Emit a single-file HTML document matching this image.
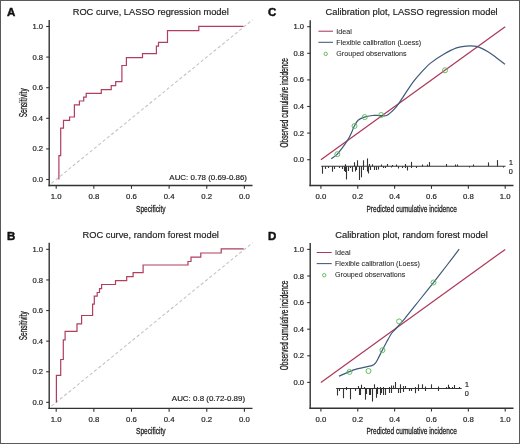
<!DOCTYPE html>
<html><head><meta charset="utf-8"><style>
html,body{margin:0;padding:0;background:#fff;}
#wrap{position:relative;width:520px;height:444px;overflow:hidden;background:#fff;}
svg{position:absolute;left:0;top:0;}
text{font-family:"Liberation Sans", sans-serif;stroke:#222;stroke-width:0.18px;}
svg{will-change:transform;}
</style></head><body><div id="wrap">
<svg width="520" height="444" viewBox="0 0 520 444">
<rect x="0" y="0" width="520" height="444" fill="#fff"/>
<text x="7.00" y="16.20" font-size="11.5" text-anchor="start" fill="#111" font-weight="bold" style="stroke:#111;stroke-width:0.45px">A</text>
<text x="150.70" y="14.90" font-size="9.3" text-anchor="middle" fill="#222" font-weight="normal" >ROC curve, LASSO regression model</text>
<line x1="51.50" y1="183.32" x2="252.50" y2="19.91" stroke="#c2c2c2" stroke-width="1.05" stroke-dasharray="3.2 2.3"/>
<line x1="49.20" y1="20.00" x2="49.20" y2="186.20" stroke="#333" stroke-width="1.4" />
<line x1="48.50" y1="185.50" x2="252.50" y2="185.50" stroke="#333" stroke-width="1.4" />
<line x1="46.20" y1="179.50" x2="49.20" y2="179.50" stroke="#333" stroke-width="1.1" />
<text x="43.00" y="182.05" font-size="7.6" text-anchor="end" fill="#222" font-weight="normal" >0.0</text>
<line x1="46.20" y1="148.90" x2="49.20" y2="148.90" stroke="#333" stroke-width="1.1" />
<text x="43.00" y="151.45" font-size="7.6" text-anchor="end" fill="#222" font-weight="normal" >0.2</text>
<line x1="46.20" y1="118.30" x2="49.20" y2="118.30" stroke="#333" stroke-width="1.1" />
<text x="43.00" y="120.85" font-size="7.6" text-anchor="end" fill="#222" font-weight="normal" >0.4</text>
<line x1="46.20" y1="87.70" x2="49.20" y2="87.70" stroke="#333" stroke-width="1.1" />
<text x="43.00" y="90.25" font-size="7.6" text-anchor="end" fill="#222" font-weight="normal" >0.6</text>
<line x1="46.20" y1="57.10" x2="49.20" y2="57.10" stroke="#333" stroke-width="1.1" />
<text x="43.00" y="59.65" font-size="7.6" text-anchor="end" fill="#222" font-weight="normal" >0.8</text>
<line x1="46.20" y1="26.50" x2="49.20" y2="26.50" stroke="#333" stroke-width="1.1" />
<text x="43.00" y="29.05" font-size="7.6" text-anchor="end" fill="#222" font-weight="normal" >1.0</text>
<line x1="56.20" y1="185.50" x2="56.20" y2="188.80" stroke="#333" stroke-width="1.1" />
<text x="56.20" y="198.70" font-size="7.8" text-anchor="middle" fill="#222" font-weight="normal" >1.0</text>
<line x1="93.84" y1="185.50" x2="93.84" y2="188.80" stroke="#333" stroke-width="1.1" />
<text x="93.84" y="198.70" font-size="7.8" text-anchor="middle" fill="#222" font-weight="normal" >0.8</text>
<line x1="131.48" y1="185.50" x2="131.48" y2="188.80" stroke="#333" stroke-width="1.1" />
<text x="131.48" y="198.70" font-size="7.8" text-anchor="middle" fill="#222" font-weight="normal" >0.6</text>
<line x1="169.12" y1="185.50" x2="169.12" y2="188.80" stroke="#333" stroke-width="1.1" />
<text x="169.12" y="198.70" font-size="7.8" text-anchor="middle" fill="#222" font-weight="normal" >0.4</text>
<line x1="206.76" y1="185.50" x2="206.76" y2="188.80" stroke="#333" stroke-width="1.1" />
<text x="206.76" y="198.70" font-size="7.8" text-anchor="middle" fill="#222" font-weight="normal" >0.2</text>
<line x1="244.40" y1="185.50" x2="244.40" y2="188.80" stroke="#333" stroke-width="1.1" />
<text x="244.40" y="198.70" font-size="7.8" text-anchor="middle" fill="#222" font-weight="normal" >0.0</text>
<g transform="translate(150.85,211.60) scale(0.67,1)"><text x="0" y="0" font-size="9.8" text-anchor="middle" fill="#222" style="stroke:#222;stroke-width:0.3px">Specificity</text></g>
<g transform="translate(26.60,102.85) rotate(-90) scale(0.632,1)"><text x="0" y="0" font-size="10.2" text-anchor="middle" fill="#222" style="stroke:#222;stroke-width:0.3px">Sensitivity</text></g>
<text x="247.00" y="179.60" font-size="7.95" text-anchor="end" fill="#222" font-weight="normal" >AUC: 0.78 (0.69-0.86)</text>
<path d="M 58.9 179.5 V 155.7 H 60.7 V 128.2 H 63.5 V 120.4 H 69.6 V 117 H 74.4 V 104.9 H 79.4 V 101 H 83.7 V 97.2 H 86.2 V 93.4 H 101.3 V 89.7 H 111.2 V 85.6 H 115.7 V 81.6 H 121.9 V 65.5 H 126.4 V 57.7 H 142.5 V 53.7 H 156.4 V 46.2 H 158.5 V 42.3 H 167.5 V 30.6 H 198.8 V 26.3 H 243.5" fill="none" stroke="#b03e5e" stroke-width="1.2" stroke-linejoin="miter"/>
<text x="7.00" y="239.55" font-size="11.5" text-anchor="start" fill="#111" font-weight="bold" style="stroke:#111;stroke-width:0.45px">B</text>
<text x="150.70" y="237.75" font-size="9.3" text-anchor="middle" fill="#222" font-weight="normal" >ROC curve, random forest model</text>
<line x1="51.50" y1="406.17" x2="252.50" y2="242.76" stroke="#c2c2c2" stroke-width="1.05" stroke-dasharray="3.2 2.3"/>
<line x1="49.20" y1="242.85" x2="49.20" y2="409.05" stroke="#333" stroke-width="1.4" />
<line x1="48.50" y1="408.35" x2="252.50" y2="408.35" stroke="#333" stroke-width="1.4" />
<line x1="46.20" y1="402.35" x2="49.20" y2="402.35" stroke="#333" stroke-width="1.1" />
<text x="43.00" y="404.90" font-size="7.6" text-anchor="end" fill="#222" font-weight="normal" >0.0</text>
<line x1="46.20" y1="371.75" x2="49.20" y2="371.75" stroke="#333" stroke-width="1.1" />
<text x="43.00" y="374.30" font-size="7.6" text-anchor="end" fill="#222" font-weight="normal" >0.2</text>
<line x1="46.20" y1="341.15" x2="49.20" y2="341.15" stroke="#333" stroke-width="1.1" />
<text x="43.00" y="343.70" font-size="7.6" text-anchor="end" fill="#222" font-weight="normal" >0.4</text>
<line x1="46.20" y1="310.55" x2="49.20" y2="310.55" stroke="#333" stroke-width="1.1" />
<text x="43.00" y="313.10" font-size="7.6" text-anchor="end" fill="#222" font-weight="normal" >0.6</text>
<line x1="46.20" y1="279.95" x2="49.20" y2="279.95" stroke="#333" stroke-width="1.1" />
<text x="43.00" y="282.50" font-size="7.6" text-anchor="end" fill="#222" font-weight="normal" >0.8</text>
<line x1="46.20" y1="249.35" x2="49.20" y2="249.35" stroke="#333" stroke-width="1.1" />
<text x="43.00" y="251.90" font-size="7.6" text-anchor="end" fill="#222" font-weight="normal" >1.0</text>
<line x1="56.20" y1="408.35" x2="56.20" y2="411.65" stroke="#333" stroke-width="1.1" />
<text x="56.20" y="421.85" font-size="7.8" text-anchor="middle" fill="#222" font-weight="normal" >1.0</text>
<line x1="93.84" y1="408.35" x2="93.84" y2="411.65" stroke="#333" stroke-width="1.1" />
<text x="93.84" y="421.85" font-size="7.8" text-anchor="middle" fill="#222" font-weight="normal" >0.8</text>
<line x1="131.48" y1="408.35" x2="131.48" y2="411.65" stroke="#333" stroke-width="1.1" />
<text x="131.48" y="421.85" font-size="7.8" text-anchor="middle" fill="#222" font-weight="normal" >0.6</text>
<line x1="169.12" y1="408.35" x2="169.12" y2="411.65" stroke="#333" stroke-width="1.1" />
<text x="169.12" y="421.85" font-size="7.8" text-anchor="middle" fill="#222" font-weight="normal" >0.4</text>
<line x1="206.76" y1="408.35" x2="206.76" y2="411.65" stroke="#333" stroke-width="1.1" />
<text x="206.76" y="421.85" font-size="7.8" text-anchor="middle" fill="#222" font-weight="normal" >0.2</text>
<line x1="244.40" y1="408.35" x2="244.40" y2="411.65" stroke="#333" stroke-width="1.1" />
<text x="244.40" y="421.85" font-size="7.8" text-anchor="middle" fill="#222" font-weight="normal" >0.0</text>
<g transform="translate(150.85,434.45) scale(0.67,1)"><text x="0" y="0" font-size="9.8" text-anchor="middle" fill="#222" style="stroke:#222;stroke-width:0.3px">Specificity</text></g>
<g transform="translate(26.60,325.70) rotate(-90) scale(0.632,1)"><text x="0" y="0" font-size="10.2" text-anchor="middle" fill="#222" style="stroke:#222;stroke-width:0.3px">Sensitivity</text></g>
<text x="245.10" y="400.50" font-size="7.95" text-anchor="end" fill="#222" font-weight="normal" >AUC: 0.8 (0.72-0.89)</text>
<path d="M 56.4 402.5 V 375.4 H 60.7 V 359.5 H 63.3 V 339.9 H 65.1 V 331.4 H 77 V 323.9 H 81.6 V 315.5 H 92.6 V 304.2 H 94.3 V 296.2 H 97.2 V 292.5 H 99.5 V 288.7 H 101.6 V 284.5 H 115.5 V 280.6 H 126.7 V 276.6 H 133.1 V 272.7 H 143.1 V 265 H 188 V 261.5 H 191 V 257.2 H 200.8 V 253 H 221.2 V 248.8 H 243.7" fill="none" stroke="#b03e5e" stroke-width="1.2" stroke-linejoin="miter"/>
<text x="268.00" y="16.40" font-size="11.5" text-anchor="start" fill="#111" font-weight="bold" style="stroke:#111;stroke-width:0.45px">C</text>
<text x="411.60" y="14.90" font-size="9.3" text-anchor="middle" fill="#222" font-weight="normal" >Calibration plot, LASSO regression model</text>
<line x1="310.20" y1="20.20" x2="310.20" y2="186.20" stroke="#333" stroke-width="1.4" />
<line x1="309.50" y1="185.50" x2="513.50" y2="185.50" stroke="#333" stroke-width="1.4" />
<line x1="307.20" y1="159.70" x2="310.20" y2="159.70" stroke="#333" stroke-width="1.1" />
<text x="304.00" y="162.25" font-size="7.6" text-anchor="end" fill="#222" font-weight="normal" >0.0</text>
<line x1="307.20" y1="133.10" x2="310.20" y2="133.10" stroke="#333" stroke-width="1.1" />
<text x="304.00" y="135.65" font-size="7.6" text-anchor="end" fill="#222" font-weight="normal" >0.2</text>
<line x1="307.20" y1="106.50" x2="310.20" y2="106.50" stroke="#333" stroke-width="1.1" />
<text x="304.00" y="109.05" font-size="7.6" text-anchor="end" fill="#222" font-weight="normal" >0.4</text>
<line x1="307.20" y1="79.90" x2="310.20" y2="79.90" stroke="#333" stroke-width="1.1" />
<text x="304.00" y="82.45" font-size="7.6" text-anchor="end" fill="#222" font-weight="normal" >0.6</text>
<line x1="307.20" y1="53.30" x2="310.20" y2="53.30" stroke="#333" stroke-width="1.1" />
<text x="304.00" y="55.85" font-size="7.6" text-anchor="end" fill="#222" font-weight="normal" >0.8</text>
<line x1="307.20" y1="26.70" x2="310.20" y2="26.70" stroke="#333" stroke-width="1.1" />
<text x="304.00" y="29.25" font-size="7.6" text-anchor="end" fill="#222" font-weight="normal" >1.0</text>
<line x1="320.90" y1="185.50" x2="320.90" y2="188.80" stroke="#333" stroke-width="1.1" />
<text x="320.90" y="198.70" font-size="7.8" text-anchor="middle" fill="#222" font-weight="normal" >0.0</text>
<line x1="357.76" y1="185.50" x2="357.76" y2="188.80" stroke="#333" stroke-width="1.1" />
<text x="357.76" y="198.70" font-size="7.8" text-anchor="middle" fill="#222" font-weight="normal" >0.2</text>
<line x1="394.62" y1="185.50" x2="394.62" y2="188.80" stroke="#333" stroke-width="1.1" />
<text x="394.62" y="198.70" font-size="7.8" text-anchor="middle" fill="#222" font-weight="normal" >0.4</text>
<line x1="431.48" y1="185.50" x2="431.48" y2="188.80" stroke="#333" stroke-width="1.1" />
<text x="431.48" y="198.70" font-size="7.8" text-anchor="middle" fill="#222" font-weight="normal" >0.6</text>
<line x1="468.34" y1="185.50" x2="468.34" y2="188.80" stroke="#333" stroke-width="1.1" />
<text x="468.34" y="198.70" font-size="7.8" text-anchor="middle" fill="#222" font-weight="normal" >0.8</text>
<line x1="505.20" y1="185.50" x2="505.20" y2="188.80" stroke="#333" stroke-width="1.1" />
<text x="505.20" y="198.70" font-size="7.8" text-anchor="middle" fill="#222" font-weight="normal" >1.0</text>
<g transform="translate(411.65,211.60) scale(0.67,1)"><text x="0" y="0" font-size="9.8" text-anchor="middle" fill="#222" style="stroke:#222;stroke-width:0.3px">Predicted cumulative incidence</text></g>
<g transform="translate(287.70,102.75) rotate(-90) scale(0.632,1)"><text x="0" y="0" font-size="10.2" text-anchor="middle" fill="#222" style="stroke:#222;stroke-width:0.3px">Observed cumulative incidence</text></g>
<line x1="320.90" y1="159.70" x2="505.20" y2="26.70" stroke="#ac3656" stroke-width="1.2" />
<path d="M 331.30 158.80 C 332.22 158.10 334.97 156.43 336.80 154.60 C 338.63 152.77 340.47 150.25 342.30 147.80 C 344.13 145.35 346.22 142.53 347.80 139.90 C 349.38 137.27 350.75 134.23 351.80 132.00 C 352.85 129.77 353.05 128.47 354.10 126.50 C 355.15 124.53 356.38 121.77 358.10 120.20 C 359.82 118.63 362.03 117.88 364.40 117.10 C 366.77 116.32 369.93 115.77 372.30 115.50 C 374.67 115.23 376.50 115.45 378.60 115.50 C 380.70 115.55 383.33 115.93 384.90 115.80 C 386.47 115.67 386.43 115.80 388.00 114.70 C 389.57 113.60 392.38 111.27 394.30 109.20 C 396.22 107.13 397.52 105.13 399.50 102.30 C 401.48 99.47 403.85 95.68 406.20 92.20 C 408.55 88.72 410.90 84.90 413.60 81.40 C 416.30 77.90 419.58 74.25 422.40 71.20 C 425.22 68.15 426.95 65.92 430.50 63.10 C 434.05 60.28 439.37 56.83 443.70 54.30 C 448.03 51.77 452.83 49.27 456.50 47.90 C 460.17 46.53 462.35 46.35 465.70 46.10 C 469.05 45.85 472.95 45.50 476.60 46.40 C 480.25 47.30 484.25 49.58 487.60 51.50 C 490.95 53.42 493.80 55.77 496.70 57.90 C 499.60 60.03 503.62 63.23 505.00 64.30" fill="none" stroke="#3d5a7a" stroke-width="1.2"/>
<circle cx="337.3" cy="154.2" r="2.5" fill="none" stroke="#5cb85c" stroke-width="0.95"/>
<circle cx="354.5" cy="126" r="2.5" fill="none" stroke="#5cb85c" stroke-width="0.95"/>
<circle cx="364.7" cy="117.1" r="2.5" fill="none" stroke="#5cb85c" stroke-width="0.95"/>
<circle cx="381.2" cy="115" r="2.5" fill="none" stroke="#5cb85c" stroke-width="0.95"/>
<circle cx="445" cy="70.3" r="2.5" fill="none" stroke="#5cb85c" stroke-width="0.95"/>
<line x1="318.40" y1="31.20" x2="333.00" y2="31.20" stroke="#ac3656" stroke-width="1.05" />
<line x1="318.40" y1="42.30" x2="333.00" y2="42.30" stroke="#3d5a7a" stroke-width="1.05" />
<circle cx="325.70" cy="53.90" r="1.7" fill="none" stroke="#5cb85c" stroke-width="0.95"/>
<text x="336.30" y="33.70" font-size="7.15" text-anchor="start" fill="#262626" font-weight="normal" style="stroke-width:0.06px">Ideal</text>
<text x="336.30" y="44.80" font-size="7.15" text-anchor="start" fill="#262626" font-weight="normal" style="stroke-width:0.06px">Flexible calibration (Loess)</text>
<text x="336.30" y="56.10" font-size="7.15" text-anchor="start" fill="#262626" font-weight="normal" style="stroke-width:0.06px">Grouped observations</text>
<line x1="321.20" y1="166.30" x2="505.50" y2="166.30" stroke="#333" stroke-width="1.1" />
<line x1="345.50" y1="166.30" x2="345.50" y2="164.20" stroke="#333" stroke-width="1.1" />
<line x1="354.50" y1="166.30" x2="354.50" y2="162.30" stroke="#333" stroke-width="1.1" />
<line x1="357.50" y1="166.30" x2="357.50" y2="160.30" stroke="#333" stroke-width="1.1" />
<line x1="363.50" y1="166.30" x2="363.50" y2="160.30" stroke="#333" stroke-width="1.1" />
<line x1="367.50" y1="166.30" x2="367.50" y2="158.40" stroke="#333" stroke-width="1.1" />
<line x1="369.50" y1="166.30" x2="369.50" y2="164.00" stroke="#333" stroke-width="1.1" />
<line x1="372.50" y1="166.30" x2="372.50" y2="164.30" stroke="#333" stroke-width="1.1" />
<line x1="381.50" y1="166.30" x2="381.50" y2="164.50" stroke="#333" stroke-width="1.1" />
<line x1="387.50" y1="166.30" x2="387.50" y2="164.00" stroke="#333" stroke-width="1.1" />
<line x1="392.50" y1="166.30" x2="392.50" y2="165.00" stroke="#333" stroke-width="1.1" />
<line x1="396.50" y1="166.30" x2="396.50" y2="164.50" stroke="#333" stroke-width="1.1" />
<line x1="405.50" y1="166.30" x2="405.50" y2="164.00" stroke="#333" stroke-width="1.1" />
<line x1="411.50" y1="166.30" x2="411.50" y2="161.90" stroke="#333" stroke-width="1.1" />
<line x1="422.50" y1="166.30" x2="422.50" y2="164.50" stroke="#333" stroke-width="1.1" />
<line x1="427.50" y1="166.30" x2="427.50" y2="164.50" stroke="#333" stroke-width="1.1" />
<line x1="429.50" y1="166.30" x2="429.50" y2="162.10" stroke="#333" stroke-width="1.1" />
<line x1="446.50" y1="166.30" x2="446.50" y2="164.00" stroke="#333" stroke-width="1.1" />
<line x1="455.50" y1="166.30" x2="455.50" y2="164.50" stroke="#333" stroke-width="1.1" />
<line x1="457.50" y1="166.30" x2="457.50" y2="164.50" stroke="#333" stroke-width="1.1" />
<line x1="473.50" y1="166.30" x2="473.50" y2="164.50" stroke="#333" stroke-width="1.1" />
<line x1="488.50" y1="166.30" x2="488.50" y2="162.40" stroke="#333" stroke-width="1.1" />
<line x1="497.50" y1="166.30" x2="497.50" y2="160.10" stroke="#333" stroke-width="1.1" />
<line x1="322.50" y1="166.30" x2="322.50" y2="173.70" stroke="#333" stroke-width="1.1" />
<line x1="325.50" y1="166.30" x2="325.50" y2="168.90" stroke="#333" stroke-width="1.1" />
<line x1="328.50" y1="166.30" x2="328.50" y2="168.00" stroke="#333" stroke-width="1.1" />
<line x1="332.50" y1="166.30" x2="332.50" y2="171.70" stroke="#333" stroke-width="1.1" />
<line x1="334.50" y1="166.30" x2="334.50" y2="169.00" stroke="#333" stroke-width="1.1" />
<line x1="339.50" y1="166.30" x2="339.50" y2="168.00" stroke="#333" stroke-width="1.1" />
<line x1="342.50" y1="166.30" x2="342.50" y2="169.00" stroke="#333" stroke-width="1.1" />
<line x1="344.50" y1="166.30" x2="344.50" y2="171.00" stroke="#333" stroke-width="1.1" />
<line x1="345.50" y1="166.30" x2="345.50" y2="172.00" stroke="#333" stroke-width="1.1" />
<line x1="346.50" y1="166.30" x2="346.50" y2="179.50" stroke="#333" stroke-width="1.1" />
<line x1="348.50" y1="166.30" x2="348.50" y2="171.00" stroke="#333" stroke-width="1.1" />
<line x1="350.50" y1="166.30" x2="350.50" y2="168.00" stroke="#333" stroke-width="1.1" />
<line x1="352.50" y1="166.30" x2="352.50" y2="171.90" stroke="#333" stroke-width="1.1" />
<line x1="355.50" y1="166.30" x2="355.50" y2="171.50" stroke="#333" stroke-width="1.1" />
<line x1="356.50" y1="166.30" x2="356.50" y2="170.00" stroke="#333" stroke-width="1.1" />
<line x1="359.50" y1="166.30" x2="359.50" y2="180.00" stroke="#333" stroke-width="1.1" />
<line x1="361.50" y1="166.30" x2="361.50" y2="177.30" stroke="#333" stroke-width="1.1" />
<line x1="363.50" y1="166.30" x2="363.50" y2="170.00" stroke="#333" stroke-width="1.1" />
<line x1="367.50" y1="166.30" x2="367.50" y2="171.50" stroke="#333" stroke-width="1.1" />
<line x1="368.50" y1="166.30" x2="368.50" y2="173.50" stroke="#333" stroke-width="1.1" />
<line x1="370.50" y1="166.30" x2="370.50" y2="170.00" stroke="#333" stroke-width="1.1" />
<line x1="374.50" y1="166.30" x2="374.50" y2="170.00" stroke="#333" stroke-width="1.1" />
<line x1="376.50" y1="166.30" x2="376.50" y2="170.00" stroke="#333" stroke-width="1.1" />
<line x1="378.50" y1="166.30" x2="378.50" y2="169.50" stroke="#333" stroke-width="1.1" />
<line x1="383.50" y1="166.30" x2="383.50" y2="168.00" stroke="#333" stroke-width="1.1" />
<line x1="385.50" y1="166.30" x2="385.50" y2="168.00" stroke="#333" stroke-width="1.1" />
<line x1="391.50" y1="166.30" x2="391.50" y2="167.50" stroke="#333" stroke-width="1.1" />
<line x1="398.50" y1="166.30" x2="398.50" y2="168.50" stroke="#333" stroke-width="1.1" />
<line x1="402.50" y1="166.30" x2="402.50" y2="168.00" stroke="#333" stroke-width="1.1" />
<line x1="405.50" y1="166.30" x2="405.50" y2="168.00" stroke="#333" stroke-width="1.1" />
<line x1="407.50" y1="166.30" x2="407.50" y2="170.50" stroke="#333" stroke-width="1.1" />
<line x1="411.50" y1="166.30" x2="411.50" y2="168.00" stroke="#333" stroke-width="1.1" />
<line x1="416.50" y1="166.30" x2="416.50" y2="168.00" stroke="#333" stroke-width="1.1" />
<line x1="469.50" y1="166.30" x2="469.50" y2="167.50" stroke="#333" stroke-width="1.1" />
<line x1="503.50" y1="166.30" x2="503.50" y2="167.50" stroke="#333" stroke-width="1.1" />
<text x="510.90" y="165.10" font-size="7.0" text-anchor="middle" fill="#222" font-weight="normal" >1</text>
<text x="510.90" y="173.80" font-size="7.3" text-anchor="middle" fill="#222" font-weight="normal" >0</text>
<text x="268.00" y="239.60" font-size="11.5" text-anchor="start" fill="#111" font-weight="bold" style="stroke:#111;stroke-width:0.45px">D</text>
<text x="411.60" y="237.60" font-size="9.3" text-anchor="middle" fill="#222" font-weight="normal" >Calibration plot, random forest model</text>
<line x1="310.20" y1="242.90" x2="310.20" y2="408.90" stroke="#333" stroke-width="1.4" />
<line x1="309.50" y1="408.20" x2="513.50" y2="408.20" stroke="#333" stroke-width="1.4" />
<line x1="307.20" y1="382.40" x2="310.20" y2="382.40" stroke="#333" stroke-width="1.1" />
<text x="304.00" y="384.95" font-size="7.6" text-anchor="end" fill="#222" font-weight="normal" >0.0</text>
<line x1="307.20" y1="355.80" x2="310.20" y2="355.80" stroke="#333" stroke-width="1.1" />
<text x="304.00" y="358.35" font-size="7.6" text-anchor="end" fill="#222" font-weight="normal" >0.2</text>
<line x1="307.20" y1="329.20" x2="310.20" y2="329.20" stroke="#333" stroke-width="1.1" />
<text x="304.00" y="331.75" font-size="7.6" text-anchor="end" fill="#222" font-weight="normal" >0.4</text>
<line x1="307.20" y1="302.60" x2="310.20" y2="302.60" stroke="#333" stroke-width="1.1" />
<text x="304.00" y="305.15" font-size="7.6" text-anchor="end" fill="#222" font-weight="normal" >0.6</text>
<line x1="307.20" y1="276.00" x2="310.20" y2="276.00" stroke="#333" stroke-width="1.1" />
<text x="304.00" y="278.55" font-size="7.6" text-anchor="end" fill="#222" font-weight="normal" >0.8</text>
<line x1="307.20" y1="249.40" x2="310.20" y2="249.40" stroke="#333" stroke-width="1.1" />
<text x="304.00" y="251.95" font-size="7.6" text-anchor="end" fill="#222" font-weight="normal" >1.0</text>
<line x1="320.90" y1="408.20" x2="320.90" y2="411.50" stroke="#333" stroke-width="1.1" />
<text x="320.90" y="421.70" font-size="7.8" text-anchor="middle" fill="#222" font-weight="normal" >0.0</text>
<line x1="357.76" y1="408.20" x2="357.76" y2="411.50" stroke="#333" stroke-width="1.1" />
<text x="357.76" y="421.70" font-size="7.8" text-anchor="middle" fill="#222" font-weight="normal" >0.2</text>
<line x1="394.62" y1="408.20" x2="394.62" y2="411.50" stroke="#333" stroke-width="1.1" />
<text x="394.62" y="421.70" font-size="7.8" text-anchor="middle" fill="#222" font-weight="normal" >0.4</text>
<line x1="431.48" y1="408.20" x2="431.48" y2="411.50" stroke="#333" stroke-width="1.1" />
<text x="431.48" y="421.70" font-size="7.8" text-anchor="middle" fill="#222" font-weight="normal" >0.6</text>
<line x1="468.34" y1="408.20" x2="468.34" y2="411.50" stroke="#333" stroke-width="1.1" />
<text x="468.34" y="421.70" font-size="7.8" text-anchor="middle" fill="#222" font-weight="normal" >0.8</text>
<line x1="505.20" y1="408.20" x2="505.20" y2="411.50" stroke="#333" stroke-width="1.1" />
<text x="505.20" y="421.70" font-size="7.8" text-anchor="middle" fill="#222" font-weight="normal" >1.0</text>
<g transform="translate(411.65,434.30) scale(0.67,1)"><text x="0" y="0" font-size="9.8" text-anchor="middle" fill="#222" style="stroke:#222;stroke-width:0.3px">Predicted cumulative incidence</text></g>
<g transform="translate(287.70,325.45) rotate(-90) scale(0.632,1)"><text x="0" y="0" font-size="10.2" text-anchor="middle" fill="#222" style="stroke:#222;stroke-width:0.3px">Observed cumulative incidence</text></g>
<line x1="320.90" y1="382.40" x2="505.20" y2="249.40" stroke="#ac3656" stroke-width="1.2" />
<path d="M 339.00 376.20 C 340.73 375.43 346.22 372.85 349.40 371.60 C 352.58 370.35 355.12 369.53 358.10 368.70 C 361.08 367.87 365.00 367.12 367.30 366.60 C 369.60 366.08 370.55 366.17 371.90 365.60 C 373.25 365.03 374.25 364.62 375.40 363.20 C 376.55 361.78 377.65 359.27 378.80 357.10 C 379.95 354.93 380.95 352.80 382.30 350.20 C 383.65 347.60 385.37 344.28 386.90 341.50 C 388.43 338.72 390.15 335.48 391.50 333.50 C 392.85 331.52 392.75 332.13 395.00 329.60 C 397.25 327.07 400.83 323.32 405.00 318.30 C 409.17 313.28 415.22 305.50 420.00 299.50 C 424.78 293.50 429.12 288.13 433.70 282.30 C 438.28 276.47 443.25 270.02 447.50 264.50 C 451.75 258.98 457.25 251.75 459.20 249.20" fill="none" stroke="#3d5a7a" stroke-width="1.2"/>
<circle cx="349.5" cy="371.9" r="2.5" fill="none" stroke="#5cb85c" stroke-width="0.95"/>
<circle cx="368.5" cy="371.0" r="2.5" fill="none" stroke="#5cb85c" stroke-width="0.95"/>
<circle cx="382.4" cy="350.2" r="2.5" fill="none" stroke="#5cb85c" stroke-width="0.95"/>
<circle cx="399.1" cy="321.4" r="2.5" fill="none" stroke="#5cb85c" stroke-width="0.95"/>
<circle cx="433.5" cy="282.5" r="2.5" fill="none" stroke="#5cb85c" stroke-width="0.95"/>
<line x1="316.70" y1="252.50" x2="331.70" y2="252.50" stroke="#ac3656" stroke-width="1.05" />
<line x1="316.70" y1="263.60" x2="331.70" y2="263.60" stroke="#3d5a7a" stroke-width="1.05" />
<circle cx="324.20" cy="275.20" r="1.7" fill="none" stroke="#5cb85c" stroke-width="0.95"/>
<text x="335.00" y="255.00" font-size="7.15" text-anchor="start" fill="#262626" font-weight="normal" style="stroke-width:0.06px">Ideal</text>
<text x="335.00" y="266.10" font-size="7.15" text-anchor="start" fill="#262626" font-weight="normal" style="stroke-width:0.06px">Flexible calibration (Loess)</text>
<text x="335.00" y="277.40" font-size="7.15" text-anchor="start" fill="#262626" font-weight="normal" style="stroke-width:0.06px">Grouped observations</text>
<line x1="336.20" y1="388.50" x2="461.60" y2="388.50" stroke="#333" stroke-width="1.1" />
<line x1="346.50" y1="388.50" x2="346.50" y2="387.00" stroke="#333" stroke-width="1.1" />
<line x1="358.50" y1="388.50" x2="358.50" y2="386.00" stroke="#333" stroke-width="1.1" />
<line x1="361.50" y1="388.50" x2="361.50" y2="384.70" stroke="#333" stroke-width="1.1" />
<line x1="364.50" y1="388.50" x2="364.50" y2="387.00" stroke="#333" stroke-width="1.1" />
<line x1="374.50" y1="388.50" x2="374.50" y2="384.30" stroke="#333" stroke-width="1.1" />
<line x1="377.50" y1="388.50" x2="377.50" y2="387.00" stroke="#333" stroke-width="1.1" />
<line x1="380.50" y1="388.50" x2="380.50" y2="387.00" stroke="#333" stroke-width="1.1" />
<line x1="383.50" y1="388.50" x2="383.50" y2="387.00" stroke="#333" stroke-width="1.1" />
<line x1="389.50" y1="388.50" x2="389.50" y2="387.00" stroke="#333" stroke-width="1.1" />
<line x1="391.50" y1="388.50" x2="391.50" y2="385.50" stroke="#333" stroke-width="1.1" />
<line x1="393.50" y1="388.50" x2="393.50" y2="385.50" stroke="#333" stroke-width="1.1" />
<line x1="395.50" y1="388.50" x2="395.50" y2="382.00" stroke="#333" stroke-width="1.1" />
<line x1="400.50" y1="388.50" x2="400.50" y2="384.30" stroke="#333" stroke-width="1.1" />
<line x1="403.50" y1="388.50" x2="403.50" y2="386.00" stroke="#333" stroke-width="1.1" />
<line x1="405.50" y1="388.50" x2="405.50" y2="386.00" stroke="#333" stroke-width="1.1" />
<line x1="415.50" y1="388.50" x2="415.50" y2="387.00" stroke="#333" stroke-width="1.1" />
<line x1="418.50" y1="388.50" x2="418.50" y2="384.30" stroke="#333" stroke-width="1.1" />
<line x1="422.50" y1="388.50" x2="422.50" y2="384.30" stroke="#333" stroke-width="1.1" />
<line x1="425.50" y1="388.50" x2="425.50" y2="386.50" stroke="#333" stroke-width="1.1" />
<line x1="431.50" y1="388.50" x2="431.50" y2="384.30" stroke="#333" stroke-width="1.1" />
<line x1="438.50" y1="388.50" x2="438.50" y2="386.50" stroke="#333" stroke-width="1.1" />
<line x1="446.50" y1="388.50" x2="446.50" y2="387.00" stroke="#333" stroke-width="1.1" />
<line x1="448.50" y1="388.50" x2="448.50" y2="384.70" stroke="#333" stroke-width="1.1" />
<line x1="449.50" y1="388.50" x2="449.50" y2="387.00" stroke="#333" stroke-width="1.1" />
<line x1="452.50" y1="388.50" x2="452.50" y2="387.00" stroke="#333" stroke-width="1.1" />
<line x1="454.50" y1="388.50" x2="454.50" y2="385.00" stroke="#333" stroke-width="1.1" />
<line x1="459.50" y1="388.50" x2="459.50" y2="387.00" stroke="#333" stroke-width="1.1" />
<line x1="337.50" y1="388.50" x2="337.50" y2="395.50" stroke="#333" stroke-width="1.1" />
<line x1="339.50" y1="388.50" x2="339.50" y2="391.00" stroke="#333" stroke-width="1.1" />
<line x1="343.50" y1="388.50" x2="343.50" y2="398.20" stroke="#333" stroke-width="1.1" />
<line x1="346.50" y1="388.50" x2="346.50" y2="390.00" stroke="#333" stroke-width="1.1" />
<line x1="350.50" y1="388.50" x2="350.50" y2="399.30" stroke="#333" stroke-width="1.1" />
<line x1="355.50" y1="388.50" x2="355.50" y2="391.00" stroke="#333" stroke-width="1.1" />
<line x1="359.50" y1="388.50" x2="359.50" y2="395.00" stroke="#333" stroke-width="1.1" />
<line x1="360.50" y1="388.50" x2="360.50" y2="395.00" stroke="#333" stroke-width="1.1" />
<line x1="365.50" y1="388.50" x2="365.50" y2="399.70" stroke="#333" stroke-width="1.1" />
<line x1="366.50" y1="388.50" x2="366.50" y2="394.00" stroke="#333" stroke-width="1.1" />
<line x1="369.50" y1="388.50" x2="369.50" y2="395.00" stroke="#333" stroke-width="1.1" />
<line x1="370.50" y1="388.50" x2="370.50" y2="395.00" stroke="#333" stroke-width="1.1" />
<line x1="372.50" y1="388.50" x2="372.50" y2="401.60" stroke="#333" stroke-width="1.1" />
<line x1="376.50" y1="388.50" x2="376.50" y2="397.80" stroke="#333" stroke-width="1.1" />
<line x1="377.50" y1="388.50" x2="377.50" y2="394.00" stroke="#333" stroke-width="1.1" />
<line x1="380.50" y1="388.50" x2="380.50" y2="395.00" stroke="#333" stroke-width="1.1" />
<line x1="381.50" y1="388.50" x2="381.50" y2="393.00" stroke="#333" stroke-width="1.1" />
<line x1="383.50" y1="388.50" x2="383.50" y2="395.00" stroke="#333" stroke-width="1.1" />
<line x1="385.50" y1="388.50" x2="385.50" y2="395.00" stroke="#333" stroke-width="1.1" />
<line x1="389.50" y1="388.50" x2="389.50" y2="393.00" stroke="#333" stroke-width="1.1" />
<line x1="391.50" y1="388.50" x2="391.50" y2="393.00" stroke="#333" stroke-width="1.1" />
<line x1="398.50" y1="388.50" x2="398.50" y2="393.00" stroke="#333" stroke-width="1.1" />
<line x1="400.50" y1="388.50" x2="400.50" y2="393.00" stroke="#333" stroke-width="1.1" />
<line x1="403.50" y1="388.50" x2="403.50" y2="392.00" stroke="#333" stroke-width="1.1" />
<line x1="409.50" y1="388.50" x2="409.50" y2="391.00" stroke="#333" stroke-width="1.1" />
<line x1="411.50" y1="388.50" x2="411.50" y2="391.00" stroke="#333" stroke-width="1.1" />
<line x1="415.50" y1="388.50" x2="415.50" y2="393.20" stroke="#333" stroke-width="1.1" />
<line x1="418.50" y1="388.50" x2="418.50" y2="391.00" stroke="#333" stroke-width="1.1" />
<line x1="425.50" y1="388.50" x2="425.50" y2="391.00" stroke="#333" stroke-width="1.1" />
<line x1="438.50" y1="388.50" x2="438.50" y2="391.00" stroke="#333" stroke-width="1.1" />
<text x="466.90" y="387.30" font-size="7.0" text-anchor="middle" fill="#222" font-weight="normal" >1</text>
<text x="466.90" y="396.00" font-size="7.3" text-anchor="middle" fill="#222" font-weight="normal" >0</text>
<rect x="0.5" y="0.5" width="519" height="443" fill="none" stroke="#5a5a5a" stroke-width="1"/>
</svg></div></body></html>
